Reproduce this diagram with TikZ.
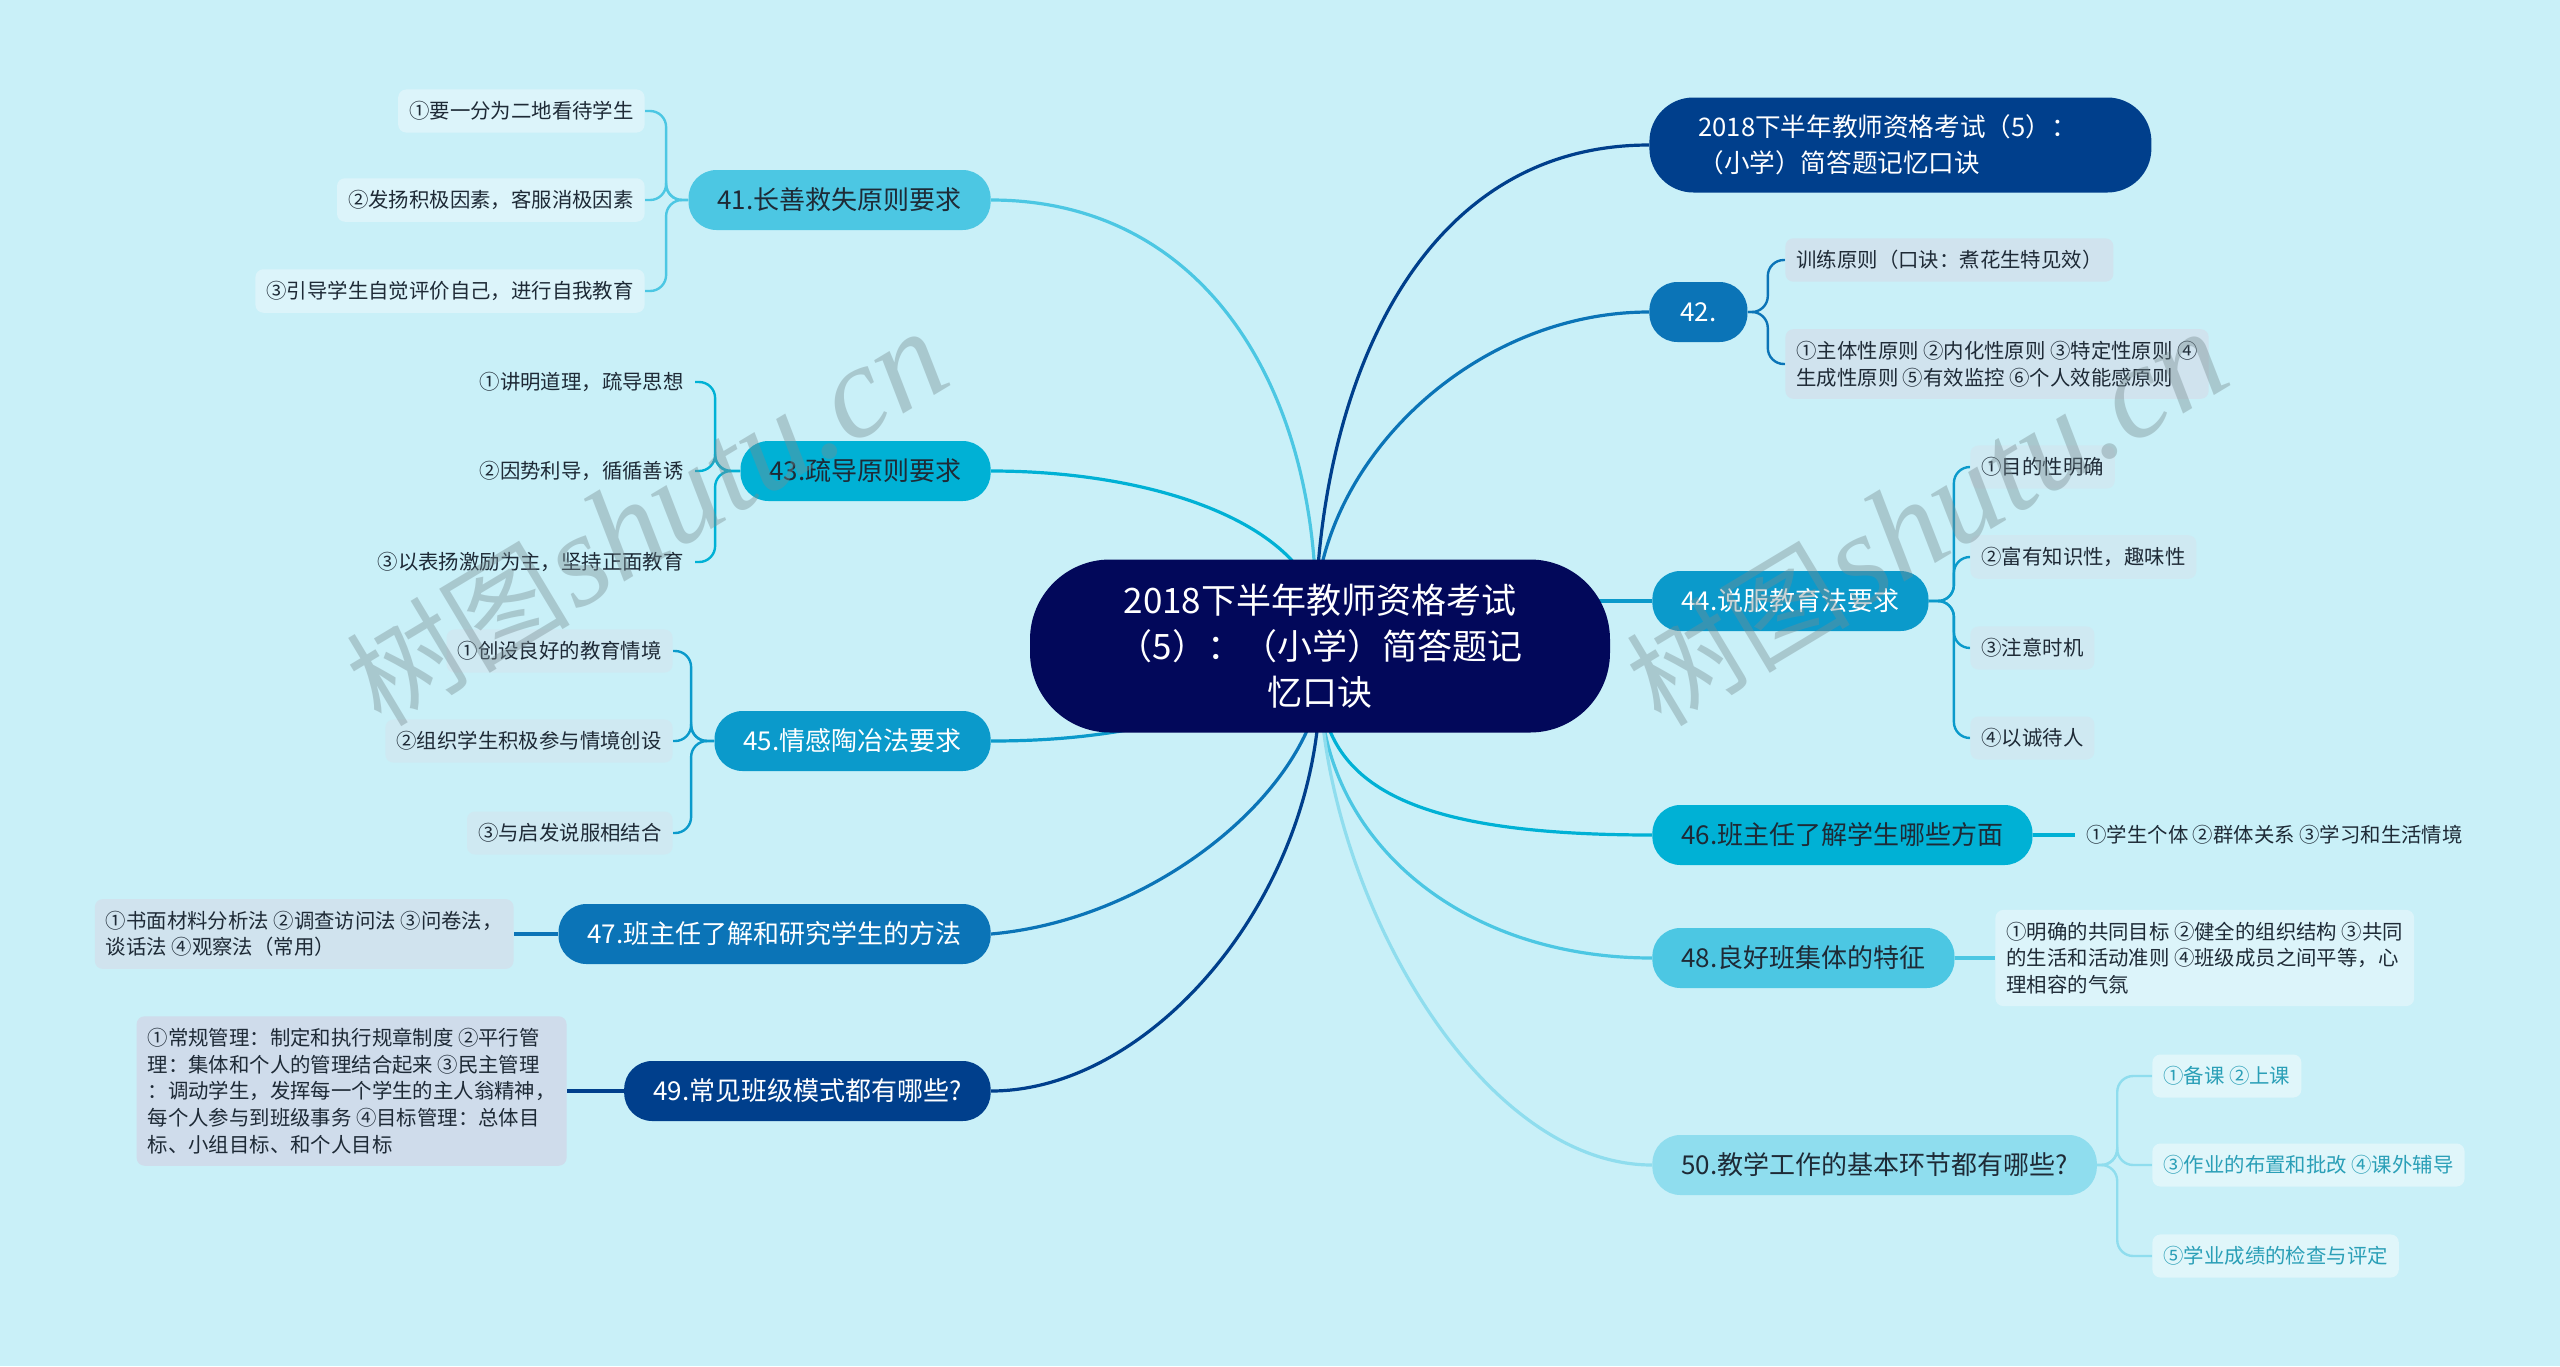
\documentclass[tikz,border=0pt]{standalone}
\usepackage{fontspec}
\setmainfont{Noto Sans CJK SC}
\newfontfamily\wmserif{Liberation Serif}
\usetikzlibrary{calc}
\pgfdeclarelayer{back}
\pgfdeclarelayer{front}
\pgfsetlayers{back,main,front}
\definecolor{bgc}{HTML}{C9F0F8}
\definecolor{cnavy}{HTML}{02085A}
\definecolor{cdark}{HTML}{003F8C}
\definecolor{cmid}{HTML}{0B74B7}
\definecolor{cteal}{HTML}{0B9ACB}
\definecolor{ccyan}{HTML}{00B1D5}
\definecolor{clight}{HTML}{4CC7E3}
\definecolor{cpale}{HTML}{8FDDEE}
\definecolor{txtd}{HTML}{1E2A36}
\definecolor{leafA}{HTML}{DCF4FA}
\definecolor{leafB}{HTML}{D0E3EE}
\definecolor{leafC}{HTML}{CFDCEB}
\definecolor{leafD}{HTML}{CFE9F2}
\definecolor{leafE}{HTML}{E0F6FA}
\definecolor{tealtxt}{HTML}{2A9FB7}
\definecolor{wmc}{HTML}{788C91}
\begin{document}
\begin{tikzpicture}[x=0.5pt,y=-0.5pt,
  rootnode/.style={fill=cnavy,text=white,rounded corners=40pt,minimum width=290pt,minimum height=86.5pt,align=center,font=\fontsize{17.5}{23}\selectfont},
  tnode/.style={fill=cdark,text=white,rounded corners=22pt,minimum height=47.5pt,text width=202pt,align=left,inner xsep=24.5pt,font=\fontsize{12.8}{18}\selectfont},
  mnode/.style={rounded corners=14pt,minimum height=30pt,inner xsep=14.5pt,inner ysep=2pt,font=\fontsize{13}{16}\selectfont},
  leaf/.style={rounded corners=4pt,inner xsep=5.5pt,inner ysep=6pt,text=txtd,align=left,font=\fontsize{10.2}{13.3}\selectfont},
  conn/.style={line width=1.6pt},
  brk/.style={line width=1.2pt,rounded corners=8pt},
  wmk/.style={text=wmc,text opacity=0.4,inner sep=0pt}]
\begin{pgfonlayer}{back}
\fill[bgc] (0,0) rectangle (2560,1366);
\end{pgfonlayer}
\useasboundingbox (0,0) rectangle (2560,1366);

% root and main nodes
\node[rootnode] (c) at (1320,646) {2018下半年教师资格考试\\（5）：（小学）简答题记\\忆口诀};
\node[mnode,fill=clight,text=txtd,anchor=east] (n41) at (991,200) {41.长善救失原则要求};
\node[mnode,fill=ccyan,text=txtd,anchor=east] (n43) at (991,471) {43.疏导原则要求};
\node[mnode,fill=cteal,text=white,anchor=east] (n45) at (991,741) {45.情感陶冶法要求};
\node[mnode,fill=cmid,text=white,anchor=east] (n47) at (991,934) {47.班主任了解和研究学生的方法};
\node[mnode,fill=cdark,text=white,anchor=east] (n49) at (991,1091) {49.常见班级模式都有哪些?};
\node[tnode,anchor=west] (tr) at (1649,145) {2018下半年教师资格考试（5）：\\（小学）简答题记忆口诀};
\node[mnode,fill=cmid,text=white,anchor=west,minimum width=49pt,inner xsep=13pt] (n42) at (1649,312) {42.};
\node[mnode,fill=cteal,text=white,anchor=west] (n44) at (1652,601) {44.说服教育法要求};
\node[mnode,fill=ccyan,text=txtd,anchor=west] (n46) at (1652,835) {46.班主任了解学生哪些方面};
\node[mnode,fill=clight,text=txtd,anchor=west] (n48) at (1652,958) {48.良好班集体的特征};
\node[mnode,fill=cpale,text=txtd,anchor=west] (n50) at (1652,1165) {50.教学工作的基本环节都有哪些?};

% leaves left
\node[leaf,fill=leafA,anchor=east] (a1) at (645,111) {①要一分为二地看待学生};
\node[leaf,fill=leafA,anchor=east] (a2) at (645,200) {②发扬积极因素，客服消极因素};
\node[leaf,fill=leafA,anchor=east] (a3) at (645,291) {③引导学生自觉评价自己，进行自我教育};
\node[leaf,anchor=east] (b1) at (695,382) {①讲明道理，疏导思想};
\node[leaf,anchor=east] (b2) at (695,471) {②因势利导，循循善诱};
\node[leaf,anchor=east] (b3) at (695,562) {③以表扬激励为主，坚持正面教育};
\node[leaf,fill=leafD,anchor=east] (d1) at (673,651) {①创设良好的教育情境};
\node[leaf,fill=leafD,anchor=east] (d2) at (673,741) {②组织学生积极参与情境创设};
\node[leaf,fill=leafD,anchor=east] (d3) at (673,833) {③与启发说服相结合};
\node[leaf,fill=leafB,anchor=east] (e1) at (514,934) {①书面材料分析法 ②调查访问法 ③问卷法，\\谈话法 ④观察法（常用）};
\node[leaf,fill=leafC,anchor=east] (f1) at (567,1091) {①常规管理：制定和执行规章制度 ②平行管\\理：集体和个人的管理结合起来 ③民主管理\\：调动学生，发挥每一个学生的主人翁精神，\\每个人参与到班级事务 ④目标管理：总体目\\标、小组目标、和个人目标};

% leaves right
\node[leaf,fill=leafB,anchor=west] (g1) at (1785,260) {训练原则（口诀：煮花生特见效）};
\node[leaf,fill=leafB,anchor=west] (g2) at (1785,364) {①主体性原则 ②内化性原则 ③特定性原则 ④\\生成性原则 ⑤有效监控 ⑥个人效能感原则};
\node[leaf,fill=leafD,anchor=west] (h1) at (1970,467) {①目的性明确};
\node[leaf,fill=leafD,anchor=west] (h2) at (1970,557) {②富有知识性，趣味性};
\node[leaf,fill=leafD,anchor=west] (h3) at (1970,648) {③注意时机};
\node[leaf,fill=leafD,anchor=west] (h4) at (1970,738) {④以诚待人};
\node[leaf,anchor=west] (k1) at (2075,835) {①学生个体 ②群体关系 ③学习和生活情境};
\node[leaf,fill=leafA,anchor=west] (m1) at (1995,958) {①明确的共同目标 ②健全的组织结构 ③共同\\的生活和活动准则 ④班级成员之间平等，心\\理相容的气氛};
\node[leaf,fill=leafE,text=tealtxt,anchor=west] (p1) at (2152,1076) {①备课 ②上课};
\node[leaf,fill=leafE,text=tealtxt,anchor=west] (p2) at (2152,1165) {③作业的布置和批改 ④课外辅导};
\node[leaf,fill=leafE,text=tealtxt,anchor=west] (p3) at (2152,1256) {⑤学业成绩的检查与评定};

\begin{pgfonlayer}{back}
\coordinate (ct) at (1316,600);
\coordinate (cb) at (1320,690);
\coordinate (cl) at (1250,700);
\coordinate (cr) at (1560,601);
% main connectors
\draw[conn,cdark] (ct) .. controls (1325,380) and (1420,145) .. (tr.west);
\draw[conn,cmid] (ct) .. controls (1330,450) and (1480,312) .. (n42.west);
\draw[conn,cteal] (cr) -- (n44.west);
\draw[conn,ccyan] (cb) .. controls (1330,790) and (1420,835) .. (n46.west);
\draw[conn,clight] (cb) .. controls (1325,840) and (1460,958) .. (n48.west);
\draw[conn,cpale] (cb) .. controls (1330,900) and (1480,1165) .. (n50.west);
\draw[conn,clight] (ct) .. controls (1312,380) and (1200,200) .. (n41.east);
\draw[conn,ccyan] (ct) .. controls (1290,520) and (1150,471) .. (n43.east);
\draw[conn,cteal] (cl) .. controls (1150,730) and (1080,741) .. (n45.east);
\draw[conn,cmid] (cb) .. controls (1300,800) and (1150,920) .. (n47.east);
\draw[conn,cdark] (cb) .. controls (1315,900) and (1150,1091) .. (n49.east);
% brackets
\foreach \t in {a1,a2,a3} \draw[brk,clight] (n41.west) -- ++(-22,0) |- (\t.east);
\foreach \t in {b1,b2,b3} \draw[brk,ccyan] (n43.west) -- ++(-25,0) |- (\t.east);
\foreach \t in {d1,d2,d3} \draw[brk,cteal] (n45.west) -- ++(-23,0) |- (\t.east);
\draw[conn,cmid] (n47.west) -- (e1.east);
\draw[conn,cdark] (n49.west) -- (f1.east);
\foreach \t in {g1,g2} \draw[brk,cmid] (n42.east) -- ++(20,0) |- (\t.west);
\foreach \t in {h1,h2,h3,h4} \draw[brk,cteal] (n44.east) -- ++(25,0) |- (\t.west);
\draw[conn,ccyan] (n46.east) -- (k1.west);
\draw[conn,clight] (n48.east) -- (m1.west);
\foreach \t in {p1,p2,p3} \draw[brk,cpale] (n50.east) -- ++(20,0) |- (\t.west);
\end{pgfonlayer}

\begin{pgfonlayer}{front}
\node[wmk,rotate=31] (w1) at (647,519) {{\fontsize{56}{56}\selectfont 树图}\,{\wmserif\itshape\fontsize{66}{66}\selectfont shutu.cn}};
\node[wmk,rotate=31] (w2) at (1927,519) {{\fontsize{56}{56}\selectfont 树图}\,{\wmserif\itshape\fontsize{66}{66}\selectfont shutu.cn}};
\end{pgfonlayer}
\end{tikzpicture}
\end{document}
